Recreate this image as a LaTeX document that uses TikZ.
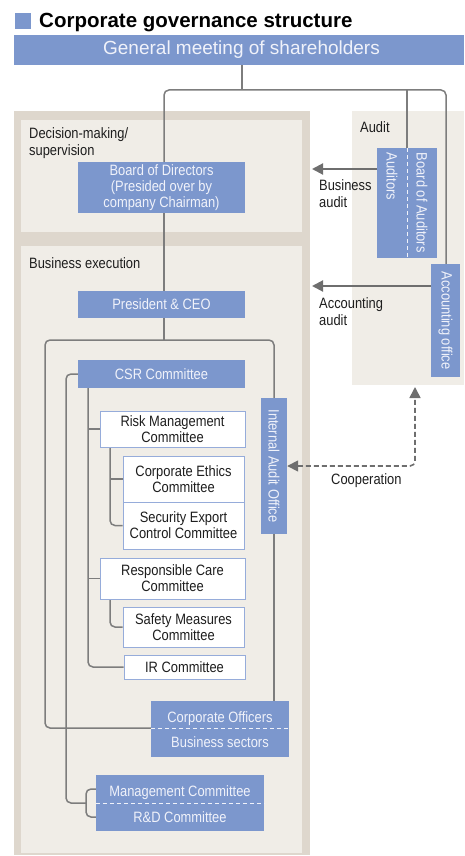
\documentclass[tikz,border=0pt]{standalone}
\usepackage{fontspec}
\setmainfont{Liberation Sans}
\newfontfamily\cnd[FakeStretch=0.86]{Liberation Sans}
\usetikzlibrary{arrows.meta}
\definecolor{boxblue}{RGB}{124,151,205}
\definecolor{txtlight}{RGB}{240,242,250}
\definecolor{bgdark}{RGB}{222,215,205}
\definecolor{bglight}{RGB}{240,237,231}
\definecolor{linegray}{RGB}{125,125,125}
\definecolor{arrgray}{RGB}{110,110,110}
\definecolor{wborder}{RGB}{150,172,218}
\definecolor{txtdark}{RGB}{30,30,30}
\pgfdeclarelayer{panel}
\pgfdeclarelayer{lines}
\pgfsetlayers{panel,lines,main}
\begin{document}
\begin{tikzpicture}[x=1pt,y=-1pt,
  bluebox/.style={fill=boxblue, text=txtlight, inner sep=0pt, align=center, font=\cnd\fontsize{15}{16}\selectfont},
  whitebox/.style={fill=white, draw=wborder, line width=0.8pt, text=txtdark, inner sep=0pt, align=center, font=\cnd\fontsize{15}{16}\selectfont},
  lbl/.style={text=txtdark, inner sep=0pt, align=left, anchor=west, font=\cnd\fontsize{15}{17}\selectfont},
  conn/.style={draw=linegray, line width=1.5pt, rounded corners=5pt},
  auditarrow/.style={draw=arrgray, line width=2pt, -{Triangle[length=11pt,width=11pt]}},
  coop/.style={draw=arrgray, line width=1.6pt, dash pattern=on 5pt off 3pt, rounded corners=5pt, {Triangle[length=11pt,width=11pt]}-{Triangle[length=11pt,width=11pt]}},
  divider/.style={draw=txtlight, line width=1pt, dash pattern=on 4pt off 3pt},
  upperhalf/.style={text height=15pt, text depth=0pt},
]
\useasboundingbox (0,0) rectangle (464,856);

% title
\node[fill=boxblue, minimum size=16pt, inner sep=0pt] (sq) at (23,21) {};
\node[anchor=base west, inner sep=0pt, text=black, font=\bfseries\fontsize{20.5}{24}\selectfont] (title) at (39,28) {Corporate governance structure};

% general meeting
\node[bluebox, font=\fontsize{19}{22}\selectfont, minimum width=450pt, minimum height=30pt] (gm) at (239,50) {\hspace*{5pt}General meeting of shareholders};

% labels
\node[lbl] (ldec) at (29,143.5) {Decision-making/\\supervision};
\node[lbl] (lexec) at (29,263) {Business execution};
\node[lbl] (laud) at (360,127) {Audit};
\node[lbl] (lba) at (319,194) {Business\\audit};
\node[lbl] (laa) at (319,311.5) {Accounting\\audit};
\node[lbl] (lcoop) at (331,481) {Cooperation};

% blue boxes
\node[bluebox, minimum width=167pt, minimum height=51pt] (bod) at (161.5,187.5) {Board of Directors\\(Presided over by\\company Chairman)};
\node[bluebox, minimum width=167pt, minimum height=27pt] (pres) at (161.5,304.5) {President \& CEO};
\node[bluebox, minimum width=167pt, minimum height=28pt] (csr) at (161.5,374) {CSR Committee};
\node[bluebox, minimum width=26pt, minimum height=136pt] (iao) at (274,466) {\rotatebox{-90}{Internal Audit Office}};
\node[bluebox, upperhalf, minimum width=138pt, minimum height=27pt] (co1) at (220,714.5) {Corporate Officers};
\node[bluebox, minimum width=138pt, minimum height=29pt] (co2) at (220,742.5) {Business sectors};
\node[bluebox, upperhalf, minimum width=168pt, minimum height=28pt] (mc1) at (180,789) {Management Committee};
\node[bluebox, minimum width=168pt, minimum height=28pt] (mc2) at (180,817) {R\&D Committee};
\node[bluebox, minimum width=30pt, minimum height=110pt] (aud1) at (392,203) {\rotatebox{-90}{\makebox[100pt][l]{Auditors}}};
\node[bluebox, minimum width=30pt, minimum height=110pt] (aud2) at (422,203) {\rotatebox{-90}{\makebox[100pt][l]{Board of Auditors}}};
\node[bluebox, minimum width=29pt, minimum height=113pt] (acc) at (445.5,320.5) {\rotatebox{-90}{Accounting office}};

% white boxes
\node[whitebox, minimum width=145pt, minimum height=36pt] (risk) at (172.5,429) {Risk Management\\Committee};
\node[whitebox, minimum width=121pt, minimum height=46pt] (ethics) at (183.5,479) {Corporate Ethics\\Committee};
\node[whitebox, minimum width=121pt, minimum height=47pt] (sec) at (183.5,525.5) {Security Export\\Control Committee};
\node[whitebox, minimum width=145pt, minimum height=41pt] (rc) at (172.5,578.5) {Responsible Care\\Committee};
\node[whitebox, minimum width=121pt, minimum height=40pt] (safety) at (183.5,627) {Safety Measures\\Committee};
\node[whitebox, minimum width=121pt, minimum height=24pt] (ir) at (184.5,667) {IR Committee};

% dividers
\draw[divider] (aud1.north east) -- (aud1.south east);
\draw[divider] (co1.south west) -- (co1.south east);
\draw[divider] (mc1.south west) -- (mc1.south east);

% connectors
\begin{pgfonlayer}{lines}
\coordinate (j1) at (242,90);
\coordinate (jl) at (164,90);
\coordinate (jr) at (446,90);
\coordinate (jm) at (407,90);
\coordinate (jb) at (164,340);
\coordinate (c1) at (88,0);
\coordinate (c2) at (110,0);
\draw[conn] (gm.south -| j1) -- (j1);
\draw[conn] (jl |- bod.north) -- (jl) -- (jr) -- (jr |- acc.north);
\draw[conn] (jm) -- (jm |- aud2.north);
\draw[conn] (jl |- bod.south) -- (jl |- pres.north);
\draw[conn] (jl |- pres.south) -- (jb);
\draw[conn] (co1.south west) -- (45,728) -- (45,340) -- (274,340) -- (iao.north);
\draw[conn] (iao.south) -- (iao.south |- co1.north);
\draw[conn] (csr.west) -- (66,374) -- (66,803) -- (86,803);
\draw[conn] (mc1.west) -- (86,789) -- (86,817) -- (mc2.west);
\draw[conn] (c1 |- csr.south) -- (c1 |- ir.west) -- (ir.west);
\draw[conn] (c1 |- risk.west) -- (risk.west);
\draw[conn] (c1 |- rc.west) -- (rc.west);
\draw[conn] (c2 |- risk.south) -- (c2 |- sec.west) -- (sec.west);
\draw[conn] (c2 |- ethics.west) -- (ethics.west);
\draw[conn] (c2 |- rc.south) -- (c2 |- safety.west) -- (safety.west);
\coordinate (ba) at (312,169);
\coordinate (aa) at (312,286);
\coordinate (cp) at (415,387);
\draw[auditarrow] (aud1.west |- ba) -- (ba);
\draw[auditarrow] (acc.west |- aa) -- (aa);
\draw[coop] (iao.east) -- (cp |- iao.east) -- (cp);
\end{pgfonlayer}

% panels
\begin{pgfonlayer}{panel}
\fill[bgdark] (14,111) rectangle (310,855);
\fill[bglight] (21,120) rectangle (302,232);
\fill[bglight] (21,246) rectangle (302,853);
\fill[bglight] (352,111) rectangle (464,385);
\end{pgfonlayer}
\end{tikzpicture}
\end{document}
